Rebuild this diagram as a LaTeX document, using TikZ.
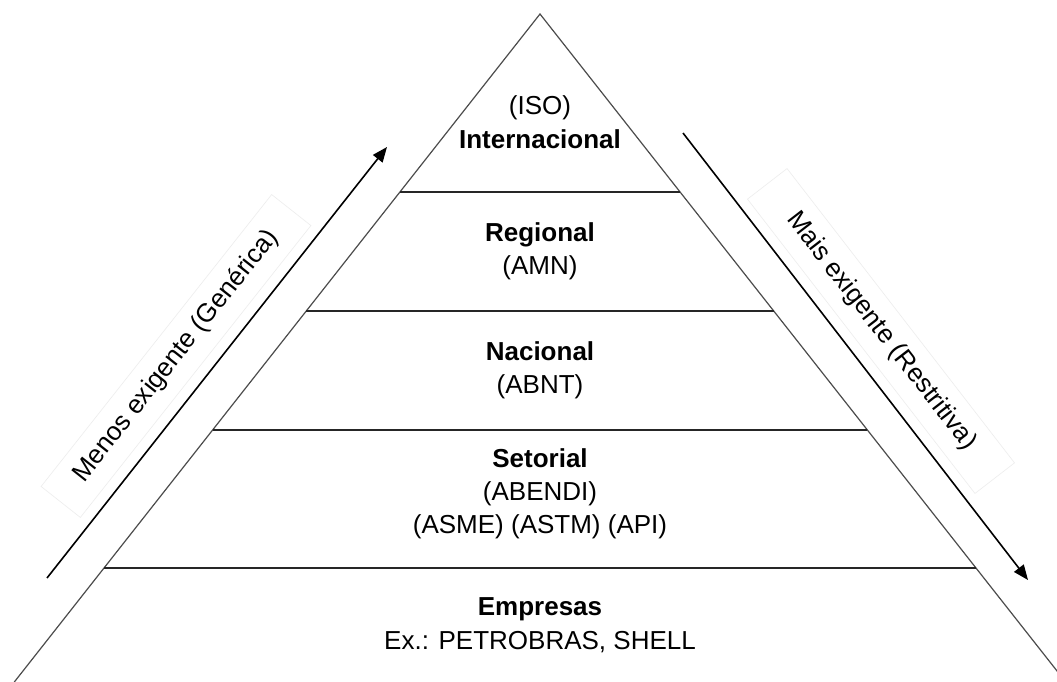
\documentclass[tikz,border=0pt]{standalone}
\usepackage{fontspec}
\setmainfont{Liberation Sans}
\usetikzlibrary{calc,arrows.meta}
\begin{document}
\begin{tikzpicture}[x=1pt,y=-1pt,
  side/.style={draw=black!70, line width=1.2pt},
  level/.style={draw=black!85, line width=1.6pt},
  dirarrow/.style={draw=black, line width=1.6pt, -{Triangle[length=15pt,width=12pt]}},
  lbl/.style={font=\fontsize{26}{31}\selectfont, anchor=base, inner sep=0pt},
  ttl/.style={font=\fontsize{26}{31}\selectfont\bfseries, anchor=base, inner sep=0pt},
  sidetext/.style={font=\fontsize{26}{31}\selectfont, draw=black!7, line width=0.6pt,
    minimum width=372pt, minimum height=50pt, inner sep=0pt}]
\useasboundingbox (0,0) rectangle (1057,682);
\clip (0,0) rectangle (1057,682);
\fill[white] (0,0) rectangle (1057,682);

% triangle
\coordinate (apex) at (540,14);
\coordinate (bl) at (14.3,682);
\coordinate (br) at (1065.7,682);
\draw[side] (bl) -- (apex) -- (br);

% level lines
\foreach \t [count=\i] in {0.2665,0.4446,0.6228,0.8293}{
  \coordinate (l\i) at ($(apex)!\t!(bl)$);
  \coordinate (r\i) at ($(apex)!\t!(br)$);
  \draw[level] (l\i) -- (r\i);
}

% texts
\node[lbl] (iso) at (540,115) {(ISO)};
\node[ttl] (int) at (540,148) {Internacional};
\node[ttl] (reg) at (540,241) {Regional};
\node[lbl] (amn) at (540,274) {(AMN)};
\node[ttl] (nac) at (540,360) {Nacional};
\node[lbl] (abnt) at (540,393) {(ABNT)};
\node[ttl] (set) at (540,467) {Setorial};
\node[lbl] (abendi) at (540,500) {(ABENDI)};
\node[lbl] (asme) at (540,533) {(ASME) (ASTM) (API)};
\node[ttl] (emp) at (540,615) {Empresas};
\node[lbl] (ex) at (540,649) {Ex.: PETROBRAS, SHELL};

% side arrows
\coordinate (la1) at (47,578);
\coordinate (la2) at (387,147);
\draw[dirarrow] (la1) -- (la2);
\node[sidetext, rotate=51.7] (menos) at (176,356) {Menos exigente (Genérica)};

\coordinate (ra1) at (683,133);
\coordinate (ra2) at (1028,580);
\draw[dirarrow] (ra1) -- (ra2);
\node[sidetext, rotate=-52.3] (mais) at (881,331) {Mais exigente (Restritiva)};
\end{tikzpicture}
\end{document}
